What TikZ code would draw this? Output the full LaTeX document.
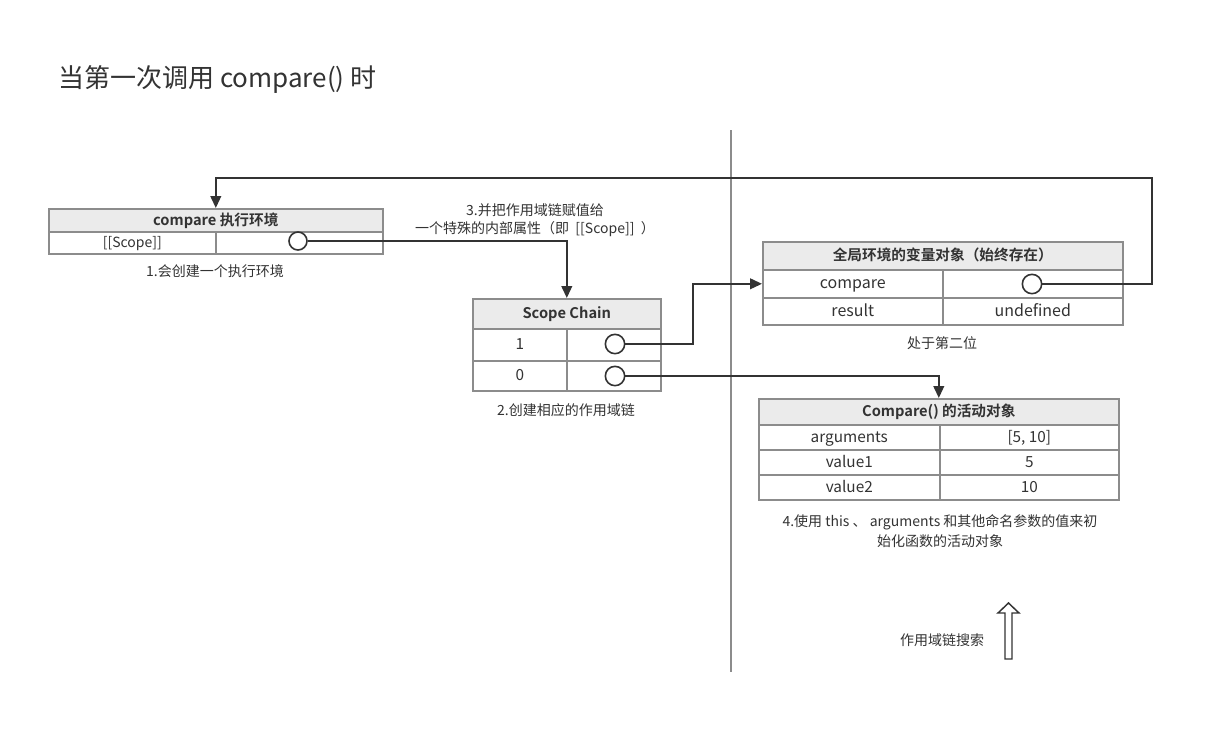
\documentclass[tikz,border=0pt]{standalone}
\usepackage{fontspec}
\setmainfont{Noto Sans CJK SC}[BoldFont={Noto Sans CJK SC Bold}]
\usetikzlibrary{arrows.meta}
\definecolor{boxgray}{HTML}{8C8C8C}
\definecolor{hdrfill}{HTML}{EBEBEB}
\definecolor{ink}{HTML}{333333}
\begin{document}
\begin{tikzpicture}[x=0.75pt,y=-0.75pt,
  cell/.style={draw=boxgray, line width=1.2pt, fill=white, inner sep=0pt, anchor=north west, text=ink, text height=0.86em, text depth=0.1em},
  hdr/.style={cell, fill=hdrfill, font=\fontsize{11pt}{13pt}\selectfont\bfseries},
  dot/.style={circle, draw=ink, line width=1.2pt, fill=white, minimum size=14.5pt, inner sep=0pt},
  conn/.style={draw=ink, line width=1.5pt, -{Triangle[length=9pt,width=8pt]}},
  lbl/.style={text=ink, font=\fontsize{10.5pt}{13.5pt}\selectfont, align=center, inner sep=0pt},
  tv/.style={font=\fontsize{12pt}{14pt}\selectfont},
  tm/.style={font=\fontsize{11.5pt}{14pt}\selectfont},
  ts/.style={font=\fontsize{10.5pt}{13pt}\selectfont}
]
\useasboundingbox (0,0) rectangle (1215,736);
\fill[white] (0,0) rectangle (1215,736);

% title
\node[anchor=base west, inner sep=0pt, text=ink, font=\fontsize{19.5pt}{23pt}\selectfont] (title) at (58,87) {当第一次调用 compare() 时};

% divider line
\draw[boxgray, line width=0.9pt] (731,130) -- (731,672);

% left box: compare 执行环境
\node[hdr, minimum width=250.5pt, minimum height=17.25pt] (lh) at (48,208) {compare 执行环境};
\node[cell, ts, minimum width=125.25pt, minimum height=16.5pt] (lrl) at (48,231) {[[Scope]]};
\node[cell, minimum width=125.25pt, minimum height=16.5pt] (lrr) at (215,231) {};
\node[dot, minimum size=13.5pt] (ldot) at (298,241) {};
\node[lbl] (l1) at (215,271) {1.会创建一个执行环境};

% scope chain
\node[hdr, minimum width=141pt, minimum height=22.5pt] (sh) at (472,298) {Scope Chain};
\node[cell, tm, minimum width=70.5pt, minimum height=24pt] (s1l) at (472,328) {1};
\node[cell, minimum width=70.5pt, minimum height=24pt] (s1r) at (566,328) {};
\node[cell, tm, minimum width=70.5pt, minimum height=22.5pt] (s0l) at (472,360) {0};
\node[cell, minimum width=70.5pt, minimum height=22.5pt] (s0r) at (566,360) {};
\node[dot] (s1dot) at (615,344) {};
\node[dot] (s0dot) at (615,376) {};
\node[lbl] (l2) at (566,410) {2.创建相应的作用域链};

% label 3
\node[lbl] (l3) at (535,220) {3.并把作用域链赋值给\\一个特殊的内部属性（即\ \ [[Scope]]\ \ ）};

% global variable object
\node[hdr, minimum width=270pt, minimum height=21pt] (gh) at (762,241) {全局环境的变量对象（始终存在）};
\node[cell, tv, minimum width=135pt, minimum height=21pt] (g1l) at (762,269) {compare};
\node[cell, minimum width=135pt, minimum height=21pt] (g1r) at (942,269) {};
\node[cell, tv, minimum width=135pt, minimum height=20.25pt] (g2l) at (762,297) {result};
\node[cell, tv, minimum width=135pt, minimum height=20.25pt] (g2r) at (942,297) {undefined};
\node[dot] (gdot) at (1032,284) {};
\node[lbl] (lg) at (942,343) {处于第二位};

% activation object
\node[hdr, minimum width=270pt, minimum height=19.5pt] (ah) at (758,398) {Compare() 的活动对象};
\node[cell, tm, minimum width=135.75pt, minimum height=18.75pt] (a1l) at (758,424) {arguments};
\node[cell, tm, minimum width=134.25pt, minimum height=18.75pt] (a1r) at (939,424) {[5, 10]};
\node[cell, tm, minimum width=135.75pt, minimum height=18.75pt] (a2l) at (758,449) {value1};
\node[cell, tm, minimum width=134.25pt, minimum height=18.75pt] (a2r) at (939,449) {5};
\node[cell, tm, minimum width=135.75pt, minimum height=18.75pt] (a3l) at (758,474) {value2};
\node[cell, tm, minimum width=134.25pt, minimum height=18.75pt] (a3r) at (939,474) {10};
\node[lbl, font=\fontsize{10.5pt}{15pt}\selectfont] (l4) at (940,531) {4.使用 this 、 arguments 和其他命名参数的值来初\\始化函数的活动对象};

% connectors
\draw[conn] (ldot.east) -| (sh.north);
\draw[conn] (s1dot.east) -- (693,344) |- (g1l.west);
\draw[conn] (s0dot.east) -| (ah.north);
\coordinate (gturn) at (1152,178);
\draw[conn] (gdot.east) -| (gturn) -| (lh.north);

% search arrow
\node[lbl] (ls) at (942,640) {作用域链搜索};
\draw[ink, line width=1.1pt, fill=white] (1005,659) -- (1005,613) -- (998,613) -- (1008.5,603) -- (1019,613) -- (1012,613) -- (1012,659) -- cycle;
\end{tikzpicture}
\end{document}
